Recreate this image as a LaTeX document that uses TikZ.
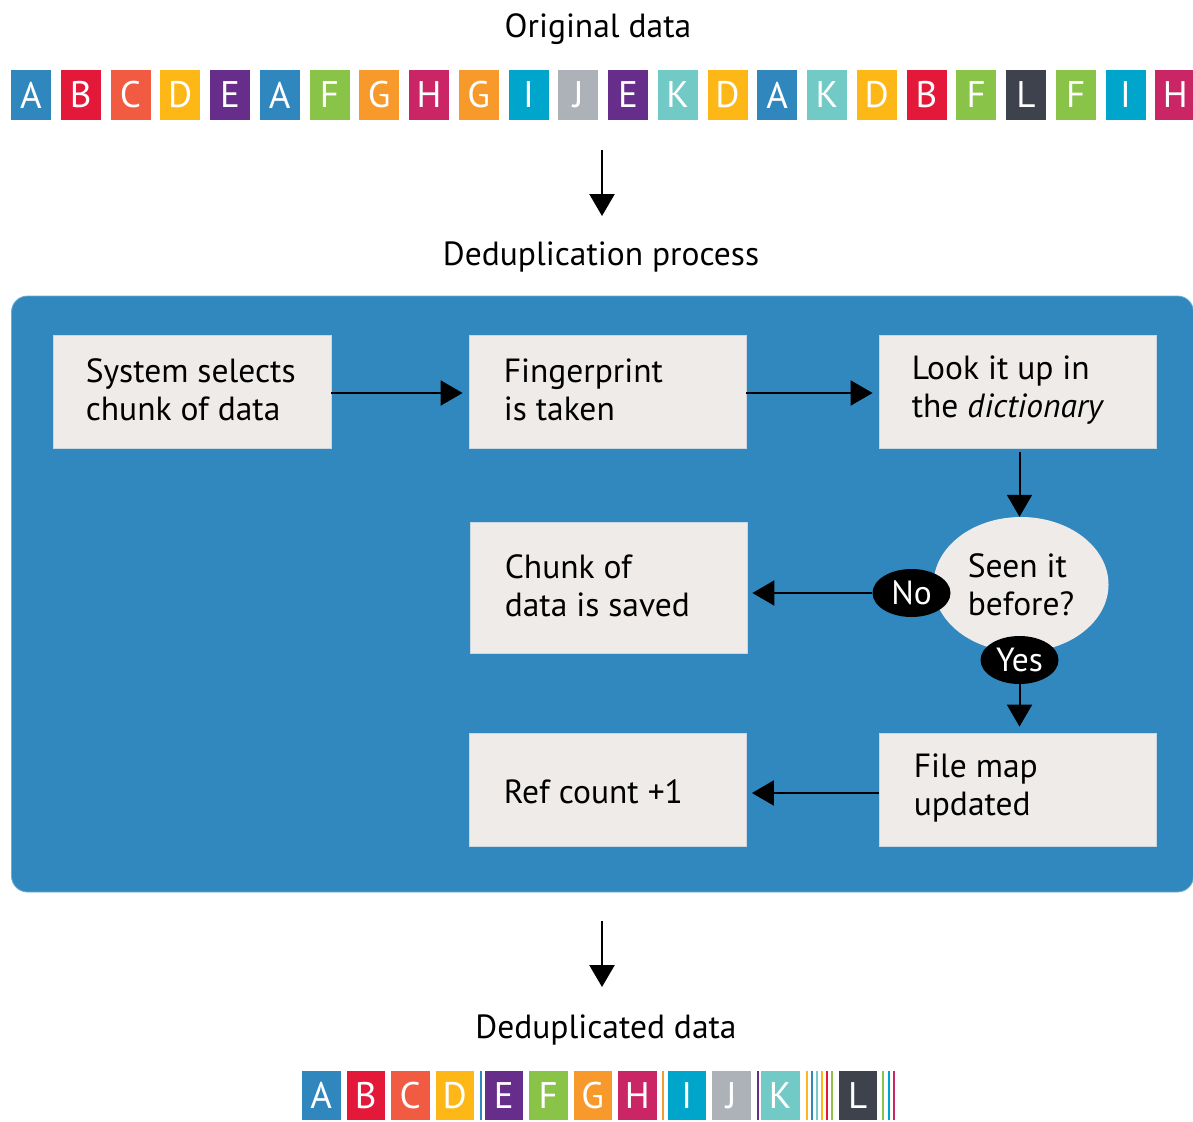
\documentclass[tikz,border=0pt]{standalone}
\usepackage{fontspec}
\setmainfont{PT Sans}
\usetikzlibrary{arrows.meta,shapes.geometric}
\definecolor{cA}{HTML}{2F87BE}
\definecolor{cB}{HTML}{E4193A}
\definecolor{cC}{HTML}{F15B42}
\definecolor{cD}{HTML}{FDB716}
\definecolor{cE}{HTML}{672D8B}
\definecolor{cF}{HTML}{89C449}
\definecolor{cG}{HTML}{F8992B}
\definecolor{cH}{HTML}{CA2564}
\definecolor{cI}{HTML}{00A5CB}
\definecolor{cJ}{HTML}{ADB1B8}
\definecolor{cK}{HTML}{72CAC6}
\definecolor{cL}{HTML}{3E424C}
\definecolor{panelblue}{HTML}{3188BE}
\definecolor{boxgray}{HTML}{EEEBE8}
\tikzset{
  sq/.style={minimum width=40pt, minimum height=50pt, inner sep=0pt, text=white,
    font=\fontsize{37}{37}\selectfont},
  sqb/.style={sq, minimum width=38.5pt, minimum height=49pt},
  title/.style={font=\fontsize{33.5}{38}\selectfont, inner sep=0pt, anchor=base},
  flowbox/.style={fill=boxgray, draw=boxgray!80!panelblue, line width=0.8pt, inner sep=0pt},
  boxtext/.style={font=\fontsize{33.5}{38}\selectfont, align=left, inner sep=0pt, anchor=west},
  panel/.style={fill=panelblue, draw=panelblue!70!white, line width=0.8pt, rounded corners=16pt, inner sep=0pt},
  decision/.style={ellipse, fill=boxgray, inner sep=0pt, minimum width=175pt, minimum height=135pt,
    font=\fontsize{33.5}{38}\selectfont, align=left},
  tag/.style={ellipse, fill=black, text=white, inner sep=0pt, minimum width=78pt, minimum height=48pt,
    font=\fontsize{33.5}{38}\selectfont},
  arr/.style={line width=2pt, -{Triangle[length=22pt,width=25pt]}},
}
\begin{document}
\begin{tikzpicture}[x=1pt, y=-1pt]
\useasboundingbox (0,0) rectangle (1193,1121);
% titles
\node[title] (orig) at (598,38) {Original data};
\node[title] (proc) at (601,265) {Deduplication process};
\node[title] (dedup) at (606,1038) {Deduplicated data};
% top row
\foreach \l [count=\i from 0] in {A,B,C,D,E,A,F,G,H,G,I,J,E,K,D,A,K,D,B,F,L,F,I,H}
  \node[sq, fill=c\l] (t\i) at (31+49.75*\i, 95) {\l};
% arrows between rows and panel
\coordinate (a1s) at (602,150);
\coordinate (a1e) at (602,216);
\draw[arr, line width=2.5pt] (a1s) -- (a1e);
\coordinate (a2s) at (602,921);
\coordinate (a2e) at (602,987);
\draw[arr, line width=2.5pt] (a2s) -- (a2e);
% panel
\node[panel, minimum width=1182pt, minimum height=596pt] (panel) at (602.5,594) {};
% boxes
\node[flowbox, minimum width=278pt, minimum height=113pt] (box1) at (192,391.5) {};
\node[flowbox, minimum width=277pt, minimum height=113pt] (box2) at (607.5,391.5) {};
\node[flowbox, minimum width=277pt, minimum height=113pt] (box3) at (1017.5,391.5) {};
\node[flowbox, minimum width=277pt, minimum height=131pt] (box4) at (608.5,587.75) {};
\node[flowbox, minimum width=277pt, minimum height=113pt] (box5) at (1017.5,789.5) {};
\node[flowbox, minimum width=277pt, minimum height=113pt] (box6) at (607.5,789.5) {};
\node[boxtext] (box1t) at ([xshift=33pt,yshift=2pt]box1.west) {System selects\\chunk of data};
\node[boxtext] (box2t) at ([xshift=35pt,yshift=2pt]box2.west) {Fingerprint\\is taken};
\node[boxtext] (box3t) at ([xshift=33pt,yshift=1pt]box3.west) {Look it up in\\the \textit{dictionary}};
\node[boxtext] (box4t) at ([xshift=35pt,yshift=2pt]box4.west) {Chunk of\\data is saved};
\node[boxtext] (box5t) at ([xshift=35pt,yshift=2pt]box5.west) {File map\\updated};
\node[boxtext] (box6t) at ([xshift=35pt,yshift=-2pt]box6.west) {Ref count +1};
% decision
\node[decision] (seen) at (1021,584.5) {Seen it\\before?};
\node[tag] (no) at (911.5,593) {No};
\node[tag] (yes) at (1019.5,660) {Yes};
% connectors
\draw[arr, shorten >=6pt] (box1.east |- 0,393) -- (box2.west |- 0,393);
\draw[arr, shorten >=6pt] (box2.east |- 0,393) -- (box3.west |- 0,393);
\draw[arr, shorten <=4pt] (box3.south -| yes.center) -- (yes.center |- seen.north);
\draw[arr, shorten >=5pt] (no.west) -- (no.west -| box4.east);
\draw[arr, shorten >=6pt] (yes.south) -- (yes.south |- box5.north);
\draw[arr, shorten >=5.5pt] (box5.west |- 0,793) -- (box6.east |- 0,793);
% bottom row
\foreach \x/\l in {321.25/A,365.75/B,410.25/C,454.75/D,503.75/E,548.25/F,592.75/G,637.25/H,686.75/I,731.25/J,780.25/K,857.75/L}
  \node[sqb, fill=c\l] (b\l) at (\x,1095.5) {\l};
\foreach \x/\c in {480.5/cA,663/cG,757.5/cE,807/cD,812/cA,817/cK,822/cD,827/cB,832/cF,883/cF,888.5/cI,894/cH}
  \draw[\c, line width=2pt] (\x,1071) -- (\x,1120);
\end{tikzpicture}
\end{document}
